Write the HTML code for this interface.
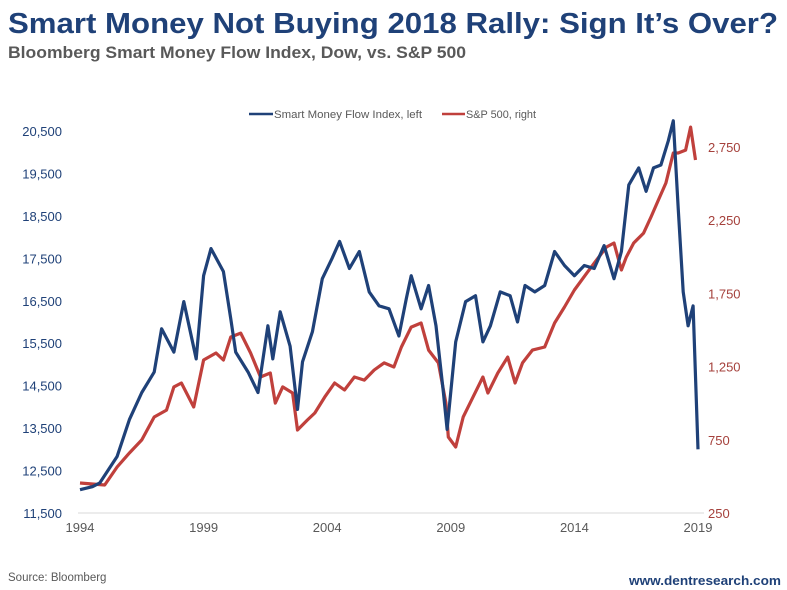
<!DOCTYPE html>
<html><head><meta charset="utf-8"><style>
html,body{margin:0;padding:0;background:#fff;}
svg{display:block;font-family:"Liberation Sans",sans-serif;}
</style></head><body>
<svg id="chart" width="787" height="590" viewBox="0 0 787 590">
<text x="8" y="33" font-size="29" font-weight="bold" fill="#1f4178" textLength="770" lengthAdjust="spacingAndGlyphs">Smart Money Not Buying 2018 Rally: Sign It’s Over?</text>
<text x="8" y="58" font-size="16.5" font-weight="bold" fill="#595959" textLength="458" lengthAdjust="spacingAndGlyphs">Bloomberg Smart Money Flow Index, Dow, vs. S&amp;P 500</text>
<g>
<g>
<line x1="249" y1="114" x2="273" y2="114" stroke="#1f4178" stroke-width="2.5"/>
<text x="274" y="118" font-size="11" fill="#595959" textLength="148" lengthAdjust="spacingAndGlyphs">Smart Money Flow Index, left</text>
</g>
<g>
<line x1="442" y1="114" x2="465" y2="114" stroke="#c0403c" stroke-width="2.5"/>
<text x="466" y="118" font-size="11" fill="#595959" textLength="70" lengthAdjust="spacingAndGlyphs">S&amp;P 500, right</text>
</g>
</g>
<line x1="78" y1="513" x2="704" y2="513" stroke="#d9d9d9" stroke-width="1"/>
<g id="axes"></g>
<g id="series"></g>
<text x="8" y="581" font-size="11.5" fill="#595959">Source: Bloomberg</text>
<text x="781" y="585" font-size="13" font-weight="bold" fill="#1f4178" text-anchor="end" textLength="152" lengthAdjust="spacingAndGlyphs">www.dentresearch.com</text>
</svg>
<script>
const xTicks = [1994, 1999, 2004, 2009, 2014, 2019];
const leftTicks = [11500, 12500, 13500, 14500, 15500, 16500, 17500, 18500, 19500, 20500];
const rightTicks = [250, 750, 1250, 1750, 2250, 2750];
const smartYears = [1994.0,1994.5,1994.8,1995.5,1996.0,1996.5,1997.0,1997.3,1997.8,1998.2,1998.7,1999.0,1999.3,1999.8,2000.1,2000.3,2000.8,2001.2,2001.6,2001.8,2002.1,2002.5,2002.8,2003.0,2003.4,2003.8,2004.2,2004.5,2004.9,2005.3,2005.7,2006.1,2006.5,2006.9,2007.2,2007.4,2007.8,2008.1,2008.4,2008.7,2008.85,2009.2,2009.6,2010.0,2010.3,2010.6,2011.0,2011.4,2011.7,2012.0,2012.4,2012.8,2013.2,2013.6,2014.0,2014.4,2014.8,2015.2,2015.6,2015.9,2016.2,2016.6,2016.9,2017.2,2017.5,2017.8,2018.0,2018.2,2018.4,2018.6,2018.8,2018.9,2019.0];
const smartValues = [12050,12120,12210,12830,13700,14340,14820,15840,15290,16480,15130,17090,17730,17190,16070,15290,14820,14340,15910,15130,16240,15430,13940,15060,15770,17020,17500,17900,17260,17660,16710,16380,16310,15670,16550,17090,16310,16860,15910,14340,13470,15530,16480,16620,15530,15910,16710,16620,16000,16860,16710,16860,17660,17330,17090,17330,17260,17800,17020,17660,19230,19630,19080,19630,19700,20270,20740,18680,16710,15910,16380,14720,13000];
const spYears = [1994.0,1995.0,1995.5,1996.0,1996.5,1997.0,1997.5,1997.8,1998.1,1998.6,1999.0,1999.5,1999.8,2000.1,2000.5,2000.9,2001.3,2001.7,2001.9,2002.2,2002.6,2002.8,2003.2,2003.5,2003.9,2004.3,2004.7,2005.1,2005.5,2005.9,2006.3,2006.7,2007.0,2007.4,2007.8,2008.1,2008.5,2008.8,2008.9,2009.2,2009.5,2009.9,2010.3,2010.5,2010.9,2011.3,2011.6,2011.9,2012.3,2012.8,2013.2,2013.6,2014.0,2014.5,2014.9,2015.3,2015.6,2015.9,2016.1,2016.4,2016.8,2017.1,2017.4,2017.7,2018.0,2018.2,2018.5,2018.7,2018.9];
const spValues = [455,441,564,660,749,906,953,1111,1138,974,1295,1343,1295,1452,1479,1343,1179,1206,1001,1111,1070,817,885,933,1042,1138,1090,1179,1158,1227,1275,1247,1384,1520,1548,1363,1275,1001,769,701,906,1042,1179,1070,1206,1315,1138,1275,1363,1384,1548,1657,1773,1889,1978,2067,2094,1910,1998,2094,2162,2272,2388,2504,2709,2709,2729,2886,2661];

const NS = 'http://www.w3.org/2000/svg';
const xS = y => 80 + (y - 1994) * (618 / 25);
const yL = v => 513 - (v - 11500) * (382 / 9000);
const yR = v => 513 - (v - 250) * (366 / 2500);
const fmt = v => v.toLocaleString('en-US');
const axes = document.getElementById('axes');
const series = document.getElementById('series');
function txt(x, y, s, anchor, fill) {
  const t = document.createElementNS(NS, 'text');
  t.setAttribute('x', x); t.setAttribute('y', y);
  t.setAttribute('font-size', '13'); t.setAttribute('fill', fill);
  t.setAttribute('text-anchor', anchor);
  t.textContent = s; axes.appendChild(t); return t;
}
xTicks.forEach(y => {
  const t = txt(xS(y), 532, String(y), 'middle', '#595959');
  
  
});
leftTicks.forEach(v => {
  const t = txt(62, yL(v) + 5, fmt(v), 'end', '#1f4178');
  
  
});
rightTicks.forEach(v => {
  const t = txt(708, yR(v) + 5, fmt(v), 'start', '#a5413c');
  
  
});
function line(xs, vs, ys, color, name) {
  const p = document.createElementNS(NS, 'path');
  p.setAttribute('d', xs.map((x, i) => (i ? 'L' : 'M') + xS(x).toFixed(1) + ',' + ys(vs[i]).toFixed(1)).join(''));
  p.setAttribute('fill', 'none'); p.setAttribute('stroke', color);
  p.setAttribute('stroke-width', '3.2'); p.setAttribute('stroke-linejoin', 'round');
  
  
  series.appendChild(p);
}
line(spYears, spValues, yR, '#c0403c', 'sp500-line');
line(smartYears, smartValues, yL, '#1f4178', 'smart-money-line');
</script>
</body></html>
